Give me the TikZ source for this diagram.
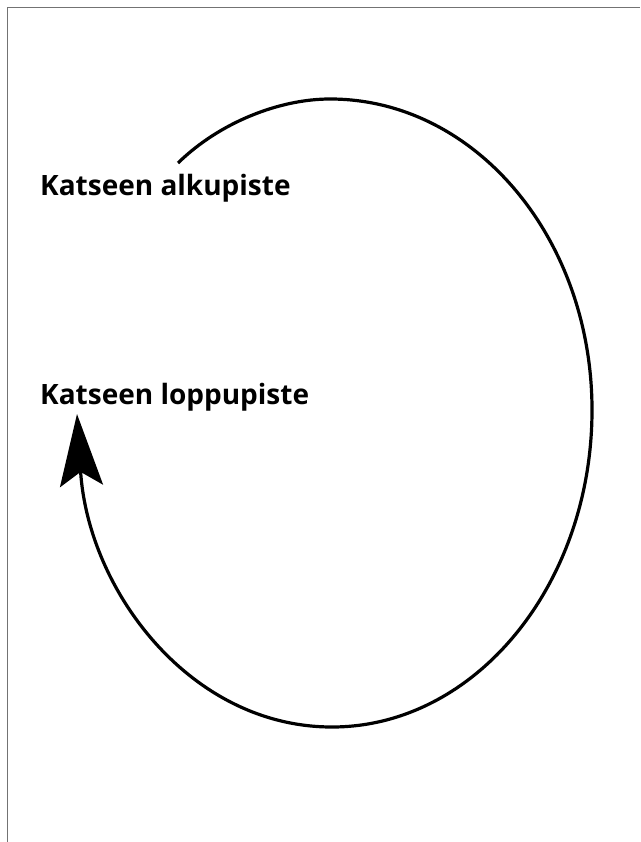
\documentclass[tikz,border=0pt]{standalone}
\usepackage{fontspec}
\setmainfont{Open Sans}
\usetikzlibrary{arrows.meta}

\begin{document}
\begin{tikzpicture}[x=1pt, y=-1pt,
  teksti/.style={anchor=base west, inner sep=0pt, font=\fontsize{28}{33}\selectfont\bfseries},
  kaari/.style={line width=3.2pt, -{Stealth[length=72pt, width=43pt, inset=14pt]}},
  reuna/.style={draw=black!55, line width=1.5pt}
]
  \useasboundingbox (0,0) rectangle (640,842);
  \draw[reuna] (7.5,842) -- (7.5,7.5) -- (640,7.5);

  \node[teksti] (alku) at (40,196) {Katseen alkupiste};
  \node[teksti] (loppu) at (40,404) {Katseen loppupiste};

  \coordinate (alkukohta) at (178,163);
  \coordinate (loppukohta) at (77,414);

  % katseen reitti
  \draw[kaari] (alkukohta) .. controls (220,122) and (280,99) .. (330,99)
    .. controls (475,99) and (592,238) .. (592,410)
    .. controls (592,585) and (475,727) .. (332,727)
    .. controls (190,727) and (88,590) .. (loppukohta);
\end{tikzpicture}
\end{document}
